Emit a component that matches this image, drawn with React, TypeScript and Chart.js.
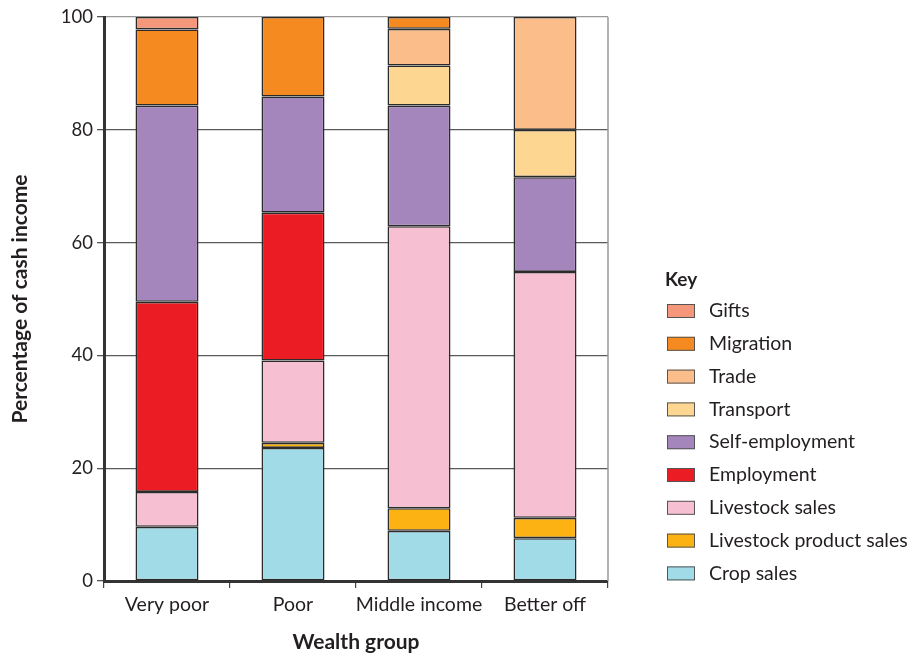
import React, { useEffect, useRef } from "react";
import { Chart, registerables } from "chart.js";

Chart.register(...registerables);

const categories = ["Very poor", "Poor", "Middle income", "Better off"];
const cropSales = [9.6, 23.6, 8.9, 7.6];
const livestockProductSales = [null, 0.9, 4.0, 3.6];
const livestockSales = [6.2, 14.6, 50.0, 43.6];
const employment = [33.7, 26.2, null, null];
const selfEmployment = [34.8, 20.6, 21.4, 16.8];
const transport = [null, null, 7.1, 8.4];
const trade = [null, null, 6.5, 20.0];
const migration = [13.5, 14.1, 2.1, null];
const gifts = [2.2, null, null, null];
const yTicks = [0, 20, 40, 60, 80, 100];

const FONT = "Lato, 'Noto Sans', sans-serif";
const TEXT = "#231f20";

const series = [
  { label: "Crop sales", data: cropSales, color: "#a2dbe8" },
  { label: "Livestock product sales", data: livestockProductSales, color: "#fdb214" },
  { label: "Livestock sales", data: livestockSales, color: "#f7c0d2" },
  { label: "Employment", data: employment, color: "#ec1c24" },
  { label: "Self-employment", data: selfEmployment, color: "#a586bc" },
  { label: "Transport", data: transport, color: "#fdd691" },
  { label: "Trade", data: trade, color: "#fbbd89" },
  { label: "Migration", data: migration, color: "#f58a21" },
  { label: "Gifts", data: gifts, color: "#f4977a" },
];

const framePlugin = {
  id: "frame",
  afterDatasetsDraw(chart: any) {
    const { ctx, chartArea } = chart;
    ctx.save();
    ctx.strokeStyle = "#9a9a9a";
    ctx.lineWidth = 1.5;
    ctx.beginPath();
    ctx.moveTo(chartArea.right, chartArea.top);
    ctx.lineTo(chartArea.right, chartArea.bottom);
    ctx.stroke();
    ctx.restore();
  },
};

const keyPlugin = {
  id: "keyLegend",
  afterDraw(chart: any) {
    const { ctx } = chart;
    const ds = chart.data.datasets.slice().reverse();
    ctx.save();
    ctx.fillStyle = TEXT;
    ctx.textBaseline = "middle";
    ctx.textAlign = "left";
    ctx.font = `bold 19px ${FONT}`;
    ctx.fillText("Key", 665, 280);
    ctx.font = `19.5px ${FONT}`;
    ds.forEach((d: any, i: number) => {
      const y = 311 + i * 32.8;
      ctx.fillStyle = d.backgroundColor;
      ctx.fillRect(667, y - 7, 28, 14);
      ctx.strokeStyle = "#555";
      ctx.lineWidth = 1;
      ctx.strokeRect(667.5, y - 6.5, 27, 13);
      ctx.fillStyle = TEXT;
      ctx.fillText(d.label, 709, y);
    });
    ctx.restore();
  },
};

export default function App() {
  const ref = useRef<HTMLCanvasElement>(null);
  useEffect(() => {
    if (!ref.current) return;
    const chart = new Chart(ref.current, {
      type: "bar",
      data: {
        labels: categories,
        datasets: series.map((s) => ({
          label: s.label,
          data: s.data as any,
          backgroundColor: s.color,
          borderColor: "#2b2b2b",
          borderWidth: 1.6,
          borderSkipped: false,
          barPercentage: 0.5,
          categoryPercentage: 1,
        })),
      },
      options: {
        animation: false,
        responsive: false,
        maintainAspectRatio: false,
        layout: { padding: { top: 17, right: 304, left: 0, bottom: 0 } },
        plugins: { legend: { display: false }, tooltip: { enabled: false } },
        scales: {
          x: {
            stacked: true,
            offset: true,
            grid: {
              offset: true,
              drawOnChartArea: false,
              drawTicks: true,
              tickLength: 7,
              tickColor: "#444",
              lineWidth: 1.2,
            },
            border: { display: true, color: "#333", width: 3 },
            ticks: {
              color: TEXT,
              font: { family: FONT, size: 19.5 },
              padding: 5,
              maxRotation: 0,
              minRotation: 0,
              autoSkip: false,
            },
            title: {
              display: true,
              text: "Wealth group",
              color: TEXT,
              font: { family: FONT, size: 21, weight: "bold" },
              padding: { top: 3, bottom: 0 },
            },
            afterFit(scale: any) {
              scale.height = 74;
            },
          },
          y: {
            stacked: true,
            min: 0,
            max: 100,
            afterBuildTicks(scale: any) {
              scale.ticks = yTicks.map((v) => ({ value: v }));
            },
            grid: {
              color: (c: any) => (c.tick && c.tick.value === 100 ? "#9a9a9a" : "#5a5a5a"),
              lineWidth: 1.3,
              drawTicks: true,
              tickLength: 7,
              tickColor: "#555",
            },
            border: { display: true, color: "#333", width: 3 },
            ticks: {
              color: TEXT,
              font: { family: FONT, size: 18.5 },
              padding: 4,
            },
            title: {
              display: true,
              text: "Percentage of cash income",
              color: TEXT,
              font: { family: FONT, size: 21, weight: "bold" },
              padding: { top: 8, bottom: 0 },
            },
            afterFit(scale: any) {
              scale.width = 104;
            },
          },
        },
      },
      plugins: [framePlugin, keyPlugin],
    });
    return () => chart.destroy();
  }, []);
  return (
    <div style={{ position: "fixed", left: 0, top: 0, width: 912, height: 655, background: "#fff" }}>
      <canvas ref={ref} width={912} height={655} style={{ width: 912, height: 655, display: "block" }} />
    </div>
  );
}
